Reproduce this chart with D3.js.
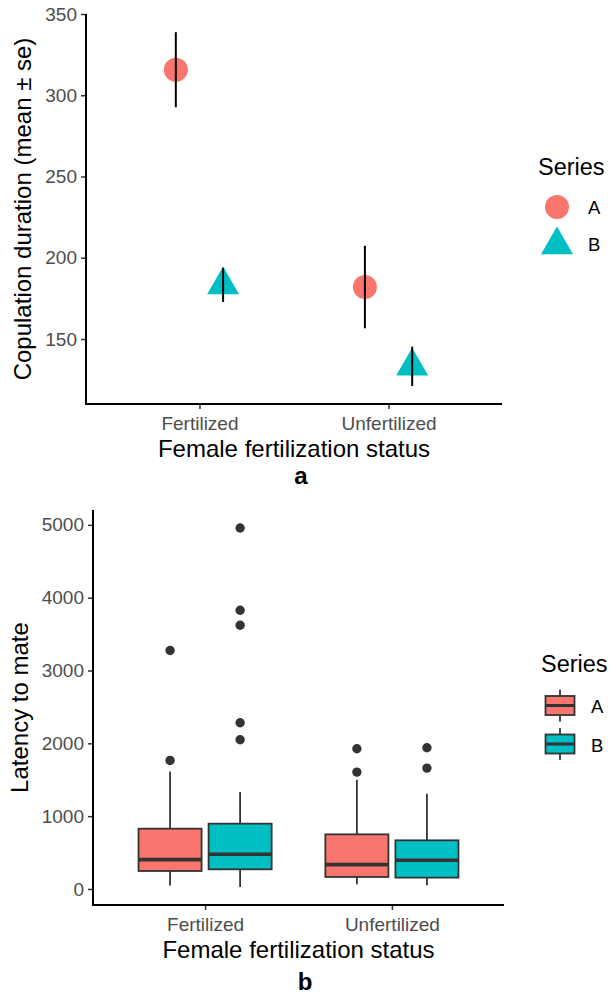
<!DOCTYPE html>
<html>
<head>
<meta charset="utf-8">
<script src="https://cdn.jsdelivr.net/npm/d3@7"></script>
<style>
  body { margin: 0; background: #fff; }
  svg text { font-family: "Liberation Sans", Arial, sans-serif; }
</style>
</head>
<body>
<div id="chart"></div>
<script>
// data
const categories = ["Fertilized", "Unfertilized"];
const series = ["A", "B"];
const colors = ["#F8766D", "#00BFC4"];

// panel a: copulation duration, mean and se
const durMeanA = [315.7, 182.0];
const durSeA = [23.1, 25.4];
const durMeanB = [183.3, 133.2];
const durSeB = [10.5, 12.1];
const durTicks = [150, 200, 250, 300, 350];

// panel b: latency to mate, [lower whisker, q1, median, q3, upper whisker]
const latA = [[47, 247, 403, 828, 1614], [64, 165, 335, 750, 1500]];
const latB = [[27, 270, 476, 897, 1331], [51, 156, 394, 668, 1309]];
const outA = [[1765, 3274], [1605, 1926]];
const outB = [[2049, 2283, 3621, 3827, 4957], [1660, 1940]];
const latTicks = [0, 1000, 2000, 3000, 4000, 5000];

const W = 616, H = 996;
const svg = d3.select("#chart").append("svg")
    .attr("width", W)
    .attr("height", H);

function drawAxes(g, x, y, ticks, left, bottom, top, right, ytitle, ytitleX, letter, letterX, letterY) {
  // y axis
  let ya = g.append("g")
      .attr("transform", "translate(" + left + ",0)")
      .call(d3.axisLeft(y).tickValues(ticks).tickFormat(d3.format("d")).tickSize(5).tickPadding(4));
  // x axis
  let xa = g.append("g")
      .attr("transform", "translate(0," + bottom + ")")
      .call(d3.axisBottom(x).tickSize(5).tickPadding(6));
  [ya, xa].forEach(function(a) {
    a.select(".domain").remove();
    a.selectAll(".tick line").attr("stroke", "#333").attr("stroke-width", 1.5);
    a.selectAll(".tick text")
        .attr("fill", "#4d4d4d")
        .style("font-size", "19px");
  });
  xa.selectAll(".tick text").attr("dy", "0.78em");
  // axis lines drawn as one L shape
  g.append("path")
      .attr("d", "M" + left + "," + top + "V" + bottom + "H" + right)
      .attr("fill", "none")
      .attr("stroke", "black")
      .attr("stroke-width", 2);

  g.append("text")
      .attr("x", (left + right) / 2)
      .attr("y", bottom + 52.5)
      .attr("text-anchor", "middle")
      .style("font-size", "24px")
      .text("Female fertilization status");

  g.append("text")
      .attr("transform", "translate(" + ytitleX + "," + (top + bottom) / 2 + ") rotate(-90)")
      .attr("text-anchor", "middle")
      .style("font-size", "24px")
      .text(ytitle);

  g.append("text")
      .attr("x", letterX)
      .attr("y", letterY)
      .attr("text-anchor", "middle")
      .style("font-size", "24px")
      .style("font-weight", "bold")
      .text(letter);
}

// ---------- panel a ----------
let ga = svg.append("g");
let xA = d3.scalePoint().domain(categories).range([86, 502]).padding(0.6);
let yA = d3.scaleLinear().domain([110, 350]).range([404, 14]);
drawAxes(ga, xA, yA, durTicks, 86, 404, 14, 502,
    "Copulation duration (mean \u00b1 se)", 31, "a", 301, 484);

let dodgeA = xA.step() * 0.125;
let durRows = [];
categories.forEach(function(c, i) {
  durRows.push({cat: c, s: 0, mean: durMeanA[i], se: durSeA[i]});
  durRows.push({cat: c, s: 1, mean: durMeanB[i], se: durSeB[i]});
});

let circle = d3.symbol().type(d3.symbolCircle).size(Math.PI * 12 * 12);
let tri = d3.symbol().type(d3.symbolTriangle).size(Math.sqrt(3) / 4 * 32 * 32);

ga.selectAll(".pt")
    .data(durRows)
    .enter()
    .append("path")
    .attr("class", "pt")
    .attr("transform", function(d) {
      let px = xA(d.cat) + (d.s === 0 ? -dodgeA : dodgeA);
      return "translate(" + px + "," + yA(d.mean) + ")";
    })
    .attr("d", function(d) { return d.s === 0 ? circle() : tri(); })
    .attr("fill", function(d) { return colors[d.s]; });

ga.selectAll(".err")
    .data(durRows)
    .enter()
    .append("line")
    .attr("class", "err")
    .attr("x1", function(d) { return xA(d.cat) + (d.s === 0 ? -dodgeA : dodgeA); })
    .attr("x2", function(d) { return xA(d.cat) + (d.s === 0 ? -dodgeA : dodgeA); })
    .attr("y1", function(d) { return yA(d.mean + d.se); })
    .attr("y2", function(d) { return yA(d.mean - d.se); })
    .attr("stroke", "black")
    .attr("stroke-width", 2);

// legend a
ga.append("text").attr("x", 538).attr("y", 175).style("font-size", "23.5px").text("Series");
ga.append("path").attr("transform", "translate(557,207)").attr("d", circle()).attr("fill", colors[0]);
ga.append("path").attr("transform", "translate(557,245)").attr("d", tri()).attr("fill", colors[1]);
series.forEach(function(s, i) {
  ga.append("text")
      .attr("x", 588)
      .attr("y", 214 + i * 37)
      .style("font-size", "18.5px")
      .text(s);
});

// ---------- panel b ----------
let gb = svg.append("g");
let xB = d3.scalePoint().domain(categories).range([93, 504]).padding(0.6);
let yB = d3.scaleLinear().domain([-220, 5204]).range([905, 510]);
drawAxes(gb, xB, yB, latTicks, 93, 905, 510, 504,
    "Latency to mate", 28, "b", 305, 990);

let dodgeB = xB.step() * 0.1875;
let boxW = xB.step() * 0.3375;
let boxRows = [];
categories.forEach(function(c, i) {
  boxRows.push({cat: c, s: 0, q: latA[i], out: outA[i]});
  boxRows.push({cat: c, s: 1, q: latB[i], out: outB[i]});
});

let box = gb.selectAll(".box")
    .data(boxRows)
    .enter()
    .append("g")
    .attr("class", "box")
    .attr("transform", function(d) {
      return "translate(" + (xB(d.cat) + (d.s === 0 ? -dodgeB : dodgeB)) + ",0)";
    });

box.append("line")
    .attr("y1", function(d) { return yB(d.q[0]); })
    .attr("y2", function(d) { return yB(d.q[4]); })
    .attr("stroke", "#333")
    .attr("stroke-width", 1.8);

box.append("rect")
    .attr("x", -boxW / 2)
    .attr("width", boxW)
    .attr("y", function(d) { return yB(d.q[3]); })
    .attr("height", function(d) { return yB(d.q[1]) - yB(d.q[3]); })
    .attr("fill", function(d) { return colors[d.s]; })
    .attr("stroke", "#333")
    .attr("stroke-width", 1.8);

box.append("line")
    .attr("x1", -boxW / 2)
    .attr("x2", boxW / 2)
    .attr("y1", function(d) { return yB(d.q[2]); })
    .attr("y2", function(d) { return yB(d.q[2]); })
    .attr("stroke", "#333")
    .attr("stroke-width", 3.6);

box.selectAll(".out")
    .data(function(d) { return d.out; })
    .enter()
    .append("circle")
    .attr("class", "out")
    .attr("cx", 0)
    .attr("cy", function(v) { return yB(v); })
    .attr("r", 4.7)
    .attr("fill", "#333");

// legend b
gb.append("text").attr("x", 541).attr("y", 672).style("font-size", "23.5px").text("Series");
series.forEach(function(s, i) {
  let cy = 705.5 + i * 38.5;
  let k = gb.append("g").attr("transform", "translate(560," + cy + ")");
  k.append("line").attr("y1", -16).attr("y2", 16).attr("stroke", "#333").attr("stroke-width", 1.8);
  k.append("rect")
      .attr("x", -14.5).attr("y", -9.5)
      .attr("width", 29).attr("height", 19)
      .attr("fill", colors[i])
      .attr("stroke", "#333")
      .attr("stroke-width", 1.8);
  k.append("line").attr("x1", -14.5).attr("x2", 14.5)
      .attr("stroke", "#333").attr("stroke-width", 3);
  gb.append("text")
      .attr("x", 591)
      .attr("y", cy + 7.5)
      .style("font-size", "18.5px")
      .text(s);
});
</script>
</body>
</html>
